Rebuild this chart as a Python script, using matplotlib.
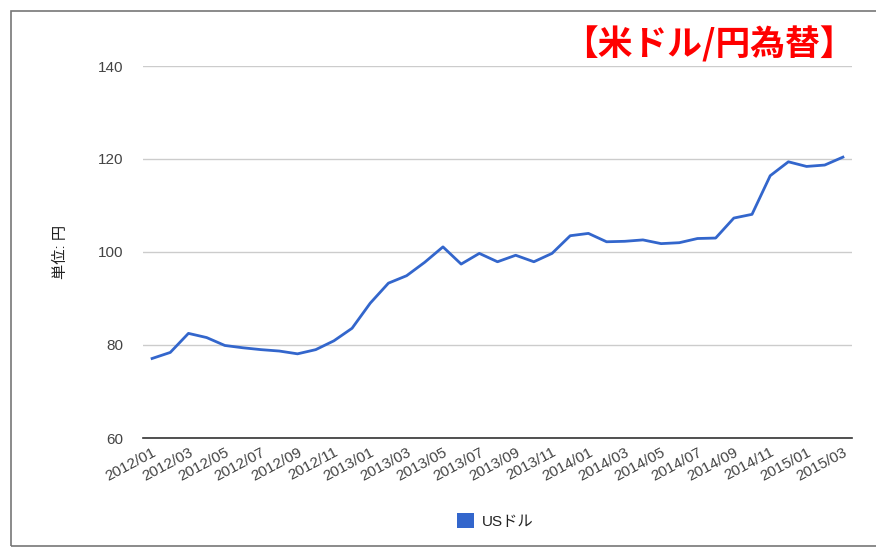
import matplotlib.pyplot as plt
from matplotlib.patches import Patch, Rectangle

plt.rcParams['font.family'] = ['Liberation Sans', 'Noto Sans CJK JP', 'DejaVu Sans']

# monthly USD/JPY, 2012/01 .. 2015/03
months = [f"{y}/{m:02d}" for y in (2012, 2013, 2014) for m in range(1, 13)] + \
         ["2015/01", "2015/02", "2015/03"]
usd_jpy = [77.1, 78.4, 82.5, 81.6, 79.9, 79.4, 79.0, 78.7, 78.1, 79.0, 80.9, 83.6,
           89.0, 93.3, 94.9, 97.8, 101.1, 97.4, 99.7, 97.9, 99.3, 97.9, 99.7, 103.5,
           104.0, 102.2, 102.3, 102.6, 101.8, 102.0, 102.9, 103.0, 107.3, 108.1, 116.4, 119.4,
           118.4, 118.7, 120.4]
yticks = [60, 80, 100, 120, 140]
series_name = "USドル"
title = "【米ドル/円為替】"
ylabel = "単位: 円"

fig = plt.figure(figsize=(8.76, 5.49), dpi=100)
ax = fig.add_axes([143 / 876, 1 - 438 / 549, (852 - 143) / 876, (438 - 66) / 549])

x = list(range(len(months)))
ax.plot(x, usd_jpy, color='#3366cc', lw=2, solid_joinstyle='round')

ax.set_xlim(-0.5, len(months) - 0.5)
ax.set_ylim(60, 140)
ax.set_yticks(yticks)
ax.set_xticks(x[::2])
ax.set_xticklabels(months[::2], rotation=28, ha='right', va='top',
                   rotation_mode='anchor', fontsize=11, color='#444444')
ax.tick_params(axis='y', labelsize=11, labelcolor='#444444', length=0, pad=14)
ax.tick_params(axis='x', length=0, pad=5)
ax.grid(axis='y', color='#cccccc', lw=1)
ax.set_axisbelow(True)
for s in ['top', 'right', 'left']:
    ax.spines[s].set_visible(False)
ax.spines['bottom'].set_color('#333333')
ax.spines['bottom'].set_linewidth(1.2)

ax.set_ylabel(ylabel, fontsize=11, color='#222222', labelpad=22)

fig.text(709 / 876, 1 - 44 / 549, title, color='#ff0000', fontsize=25,
         fontweight='bold', ha='center', va='center',
         family=['Noto Sans CJK JP', 'DejaVu Sans'])

fig.legend(handles=[Patch(facecolor='#3366cc', edgecolor='none')], labels=[series_name],
           loc='center', bbox_to_anchor=(495 / 876, 1 - 521 / 549), frameon=False,
           handlelength=1.1, handleheight=1.1, handletextpad=0.5, fontsize=11,
           labelcolor='#222222')

# outer frame
fig.patches.append(Rectangle((11 / 876, 1 - 546 / 549), 1.0, (546 - 11) / 549,
                             transform=fig.transFigure, fill=False,
                             edgecolor='#777777', lw=1.2))

fig.savefig('out.png', dpi=100)
